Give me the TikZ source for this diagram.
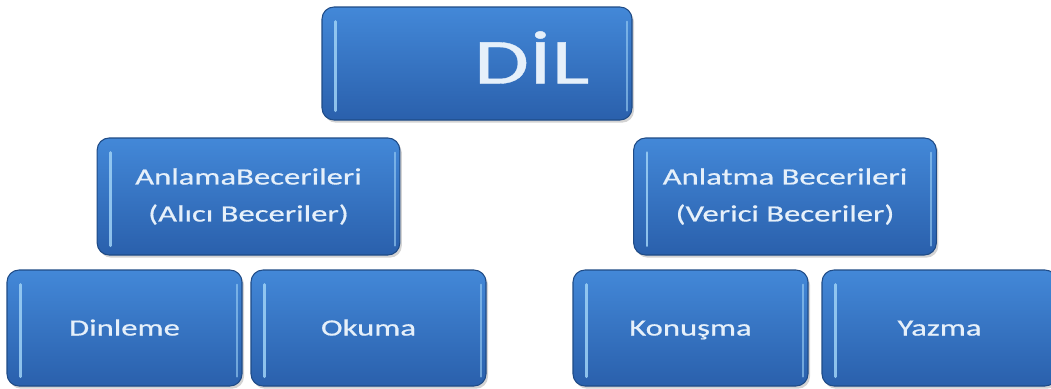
\documentclass[tikz,border=0pt]{standalone}
\usepackage{fontspec}
\setmainfont{Carlito}[FakeStretch=1.4, FakeBold=0.6]
\usetikzlibrary{shadows}

\definecolor{boxtop}{HTML}{4388D8}
\definecolor{boxbot}{HTML}{2A60AC}
\definecolor{boxrim}{HTML}{1F4B86}
\definecolor{boxglow}{HTML}{9FD2F6}
\definecolor{boxtext}{HTML}{E6F0FA}

\tikzset{
    skillbox/.style={rounded corners=9pt, draw=boxrim, line width=0.8pt,
        top color=boxtop, bottom color=boxbot, text=boxtext,
        align=center, inner sep=0pt,
        drop shadow={shadow xshift=1.5pt, shadow yshift=-2pt, opacity=0.35},
        path picture={
            \draw[boxglow, line width=2.2pt, opacity=0.85, line cap=round]
                ([xshift=10pt, yshift=-11pt]path picture bounding box.north west)
                -- ([xshift=10pt, yshift=7pt]path picture bounding box.south west);
            \draw[boxglow, line width=1.5pt, opacity=0.6, line cap=round]
                ([xshift=-4pt, yshift=-11pt]path picture bounding box.north east)
                -- ([xshift=-4pt, yshift=7pt]path picture bounding box.south east);
        }},
    rootbox/.style={skillbox, minimum width=232.5pt, minimum height=84.75pt,
        text height=30pt, text depth=0pt,
        font=\fontsize{48}{56}\selectfont},
    groupbox/.style={skillbox, minimum width=227pt, minimum height=87.75pt,
        font=\fontsize{17.5}{27.75}\selectfont},
    leafbox/.style={skillbox, minimum width=176.25pt, minimum height=87pt,
        text height=11.3pt, text depth=0pt,
        font=\fontsize{17.5}{21}\selectfont},
}

\begin{document}
\begin{tikzpicture}[x=0.75pt, y=-0.75pt]
    \useasboundingbox (0,0) rectangle (1051,389);

    % top (title sits right of centre)
    \node[rootbox] (dil) at (477, 63.5) {\hspace*{82pt}DİL};

    % second row
    \node[groupbox] (anlama) at (248.5, 196.5) {AnlamaBecerileri\\(Alıcı Beceriler)};
    \node[groupbox] (anlatma) at (785, 196.5) {Anlatma Becerileri\\(Verici Beceriler)};

    % skills
    \foreach \name/\x/\txt in {dinleme/124.5/Dinleme, okuma/368.5/Okuma,
                              konusma/690.5/Konuşma, yazma/939.5/Yazma} {
        \node[leafbox] (\name) at (\x, 328) {\txt};
    }
\end{tikzpicture}
\end{document}
